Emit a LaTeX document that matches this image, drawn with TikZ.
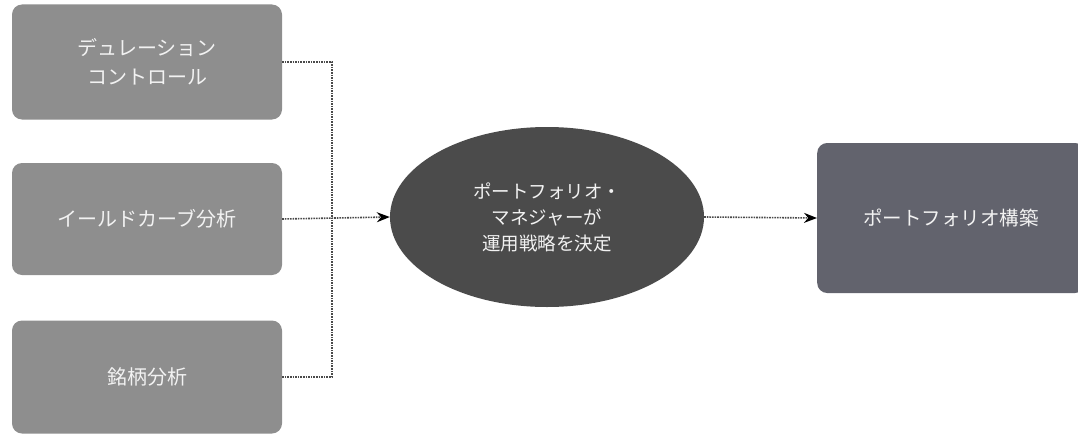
\documentclass[tikz,border=0pt]{standalone}
\usepackage{fontspec}
\setmainfont{Noto Sans CJK JP}
\usetikzlibrary{shapes.geometric,arrows.meta}
\definecolor{lbox}{HTML}{8E8E8E}
\definecolor{ell}{HTML}{4B4B4B}
\definecolor{rbox}{HTML}{62636D}
\definecolor{conn}{HTML}{4A4A4A}
\definecolor{txt}{HTML}{F2F2F2}
\tikzset{
  srcbox/.style={rectangle, rounded corners=10pt, fill=lbox, minimum width=270pt, text=txt, font=\fontsize{20}{29}\selectfont, align=center, inner sep=0pt},
  decide/.style={ellipse, fill=ell, minimum width=314pt, minimum height=180pt, text=txt, font=\fontsize{18.5}{26}\selectfont, align=center, inner sep=0pt},
  outbox/.style={rectangle, rounded corners=10pt, fill=rbox, minimum width=268pt, minimum height=150pt, text=txt, font=\fontsize{19.5}{26}\selectfont, align=center, inner sep=0pt},
  link/.style={draw=conn, densely dotted, line width=1.6pt},
  tip/.style={-{Stealth[length=13pt,width=10pt,color=black,fill=black]}}
}
\begin{document}
\begin{tikzpicture}[x=1pt,y=-1pt]
\useasboundingbox (0,0) rectangle (1078,436);
\node[srcbox, minimum height=115pt] (b1) at (147,62) {デュレーション\\コントロール};
\node[srcbox, minimum height=112pt] (b2) at (147,219) {イールドカーブ分析};
\node[srcbox, minimum height=113pt] (b3) at (147,377) {銘柄分析};
\node[decide] (e) at (547,217) {ポートフォリオ・\\マネジャーが\\運用戦略を決定};
\node[outbox, anchor=west] (o) at (817,218) {ポートフォリオ構築};
\coordinate (j) at (332,219);
\draw[link] (b1.east) -| (j);
\draw[link] (b3.east) -| (j);
\draw[link, tip] (b2.east) -- (e.west);
\draw[link, tip] (e.east) -- (o.west);
\end{tikzpicture}
\end{document}
